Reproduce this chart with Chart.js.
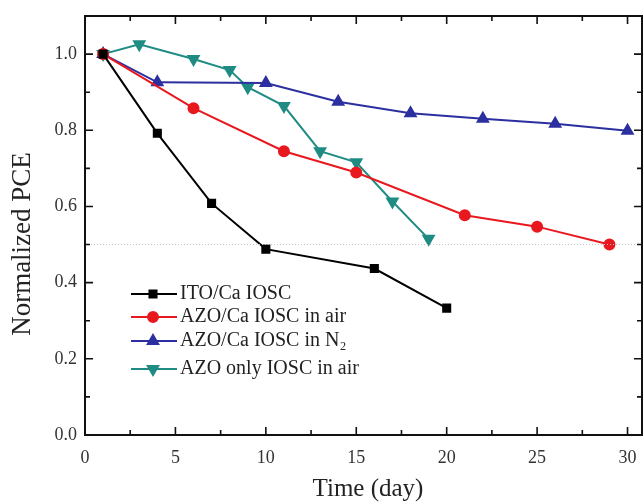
<!DOCTYPE html>
<html>
<head>
<meta charset="utf-8">
<script src="https://cdn.jsdelivr.net/npm/chart.js@4/dist/chart.umd.min.js"></script>
<style>
  html, body { margin: 0; padding: 0; background: #fff; }
  #wrap { width: 644px; height: 502px; }
</style>
</head>
<body>
<div id="wrap"><canvas id="pce" width="644" height="502"></canvas></div>
<script>
// data
const ito_x = [1, 4, 7, 10, 16, 20];
const ito_y = [1.0, 0.792, 0.608, 0.488, 0.437, 0.333];

const azoAir_x = [1, 6, 11, 15, 21, 25, 29];
const azoAir_y = [1.0, 0.858, 0.745, 0.689, 0.577, 0.547, 0.5];

const azoN2_x = [1, 4, 10, 14, 18, 22, 26, 30];
const azoN2_y = [1.0, 0.926, 0.924, 0.875, 0.845, 0.83, 0.817, 0.799];

const azoOnly_x = [1, 3, 6, 8, 9, 11, 13, 15, 17, 19];
const azoOnly_y = [1.0, 1.026, 0.987, 0.958, 0.913, 0.864, 0.745, 0.716, 0.613, 0.515];

const seriesNames = ["ITO/Ca IOSC", "AZO/Ca IOSC in air", "AZO/Ca IOSC in N\u2082", "AZO only IOSC in air"];

const xMajor = [0, 5, 10, 15, 20, 25, 30];
const yMajor = [0.0, 0.2, 0.4, 0.6, 0.8, 1.0];

const serif = "'Liberation Serif', 'DejaVu Serif', serif";

function pts(xs, ys) {
  return xs.map((x, i) => ({ x: x, y: ys[i] }));
}

const styles = [
  { color: '#000000', point: 'rect', radius: 5, rot: 0 },
  { color: '#e8191e', point: 'circle', radius: 5, rot: 0 },
  { color: '#2b2f9f', point: 'triangle', radius: 6, rot: 0 },
  { color: '#1f8c84', point: 'triangle', radius: 6, rot: 180 }
];
const allData = [pts(ito_x, ito_y), pts(azoAir_x, azoAir_y), pts(azoN2_x, azoN2_y), pts(azoOnly_x, azoOnly_y)];

// frame, inward ticks, dotted 0.5 line, axis titles, legend
const framePlugin = {
  id: 'frame',
  afterDatasetsDraw(chart) {
    const { ctx, chartArea: a, scales } = chart;
    const xs = scales.x, ys = scales.y;
    ctx.save();
    // dotted reference line at 0.5
    ctx.strokeStyle = '#c4c4c4';
    ctx.lineWidth = 1;
    ctx.setLineDash([1, 2]);
    const y5 = ys.getPixelForValue(0.5);
    ctx.beginPath();
    ctx.moveTo(a.left, y5);
    ctx.lineTo(a.right, y5);
    ctx.stroke();
    ctx.setLineDash([]);

    ctx.strokeStyle = '#111';
    ctx.lineWidth = 2;
    ctx.strokeRect(a.left, a.top, a.right - a.left, a.bottom - a.top);

    ctx.lineWidth = 1.6;
    ctx.beginPath();
    for (let v = 0; v <= 30; v += 2.5) {
      const p = xs.getPixelForValue(v);
      const len = (v % 5 === 0) ? 8 : 5;
      ctx.moveTo(p, a.bottom); ctx.lineTo(p, a.bottom - len);
      ctx.moveTo(p, a.top); ctx.lineTo(p, a.top + len);
    }
    for (let i = 0; i <= 11; i++) {
      const v = i / 10;
      const p = ys.getPixelForValue(v);
      const len = (i % 2 === 0) ? 8 : 5;
      ctx.moveTo(a.left, p); ctx.lineTo(a.left + len, p);
      ctx.moveTo(a.right, p); ctx.lineTo(a.right - len, p);
    }
    ctx.stroke();

    // axis titles
    ctx.fillStyle = '#222';
    ctx.textAlign = 'center';
    ctx.textBaseline = 'middle';
    ctx.font = '25px ' + serif;
    ctx.fillText('Time (day)', 368, 489);
    ctx.save();
    ctx.translate(23, 244);
    ctx.rotate(-Math.PI / 2);
    ctx.font = '27px ' + serif;
    ctx.fillText('Normalized PCE', 0, 0);
    ctx.restore();

    // legend
    const rows = [294, 317, 341, 369];
    ctx.font = '20px ' + serif;
    ctx.textAlign = 'left';
    rows.forEach((ry, i) => {
      const s = styles[i];
      ctx.strokeStyle = s.color;
      ctx.lineWidth = 2;
      ctx.beginPath();
      ctx.moveTo(131, ry); ctx.lineTo(177, ry);
      ctx.stroke();
      ctx.fillStyle = s.color;
      Chart.helpers.drawPoint(ctx, { pointStyle: s.point, radius: s.radius, rotation: s.rot, borderWidth: 1 }, 153, ry);
      ctx.fillStyle = '#222';
      ctx.fillText(seriesNames[i], 180, ry);
    });
    ctx.restore();
  }
};

new Chart(document.getElementById('pce'), {
  type: 'line',
  data: {
    datasets: allData.map((d, i) => ({
      label: seriesNames[i],
      data: d,
      borderColor: styles[i].color,
      backgroundColor: styles[i].color,
      pointBackgroundColor: styles[i].color,
      pointBorderColor: styles[i].color,
      pointStyle: styles[i].point,
      pointRotation: styles[i].rot,
      pointRadius: styles[i].radius,
      borderWidth: 2,
      tension: 0
    }))
  },
  options: {
    responsive: false,
    animation: false,
    layout: { autoPadding: false, padding: { top: 16, right: 2, left: 0, bottom: 0 } },
    plugins: { legend: { display: false }, tooltip: { enabled: false } },
    scales: {
      x: {
        type: 'linear',
        min: 0,
        max: 30.8,
        grid: { display: false, drawTicks: false },
        border: { display: false },
        ticks: {
          stepSize: 2.5,
          includeBounds: false,
          autoSkip: false,
          maxRotation: 0,
          padding: 12,
          color: '#333',
          font: { family: serif, size: 18 },
          callback: v => (xMajor.includes(v) ? String(v) : '')
        },
        afterFit: s => { s.height = 67; s.paddingLeft = 0; s.paddingRight = 0; }
      },
      y: {
        min: 0,
        max: 1.1,
        grid: { display: false, drawTicks: false },
        border: { display: false },
        ticks: {
          stepSize: 0.1,
          includeBounds: false,
          autoSkip: false,
          padding: 8,
          color: '#333',
          font: { family: serif, size: 18 },
          callback: v => {
            const r = Math.round(v * 10) / 10;
            return yMajor.some(m => Math.abs(m - r) < 1e-6) && Math.abs(v - r) < 1e-6 ? r.toFixed(1) : '';
          }
        },
        afterFit: s => { s.width = 85; s.paddingTop = 0; s.paddingBottom = 0; }
      }
    }
  },
  plugins: [framePlugin]
});
</script>
</body>
</html>
